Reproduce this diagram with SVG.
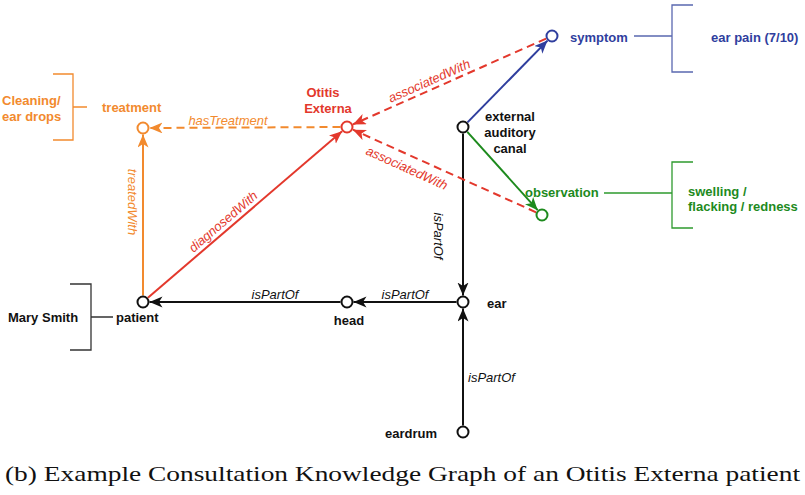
<svg xmlns="http://www.w3.org/2000/svg" width="805" height="495" viewBox="0 0 805 495">
<style>
text{font-family:"Liberation Sans",Arial,sans-serif;font-size:13px}
.b{font-weight:bold}
.i{font-style:italic}
.node{fill:#fff;stroke-width:2}
.edge{fill:none;stroke-width:2}
.dash{stroke-dasharray:8,5}
.br{fill:none;stroke-width:1.3}
.k{stroke:#111}.kf{fill:#111}
.o{stroke:#f28a2e}.of{fill:#f28a2e}
.r{stroke:#e3382c}.rf{fill:#e3382c}
.u{stroke:#2f3e9e}.uf{fill:#2f3e9e}
.g{stroke:#1d8a1d}.gf{fill:#1d8a1d}
</style>
<defs>
<marker id="ak" markerUnits="userSpaceOnUse" markerWidth="14" markerHeight="12" refX="13" refY="5.5" orient="auto"><path d="M0,0 L13,5.5 L0,11 L3.5,5.5 z" fill="#111"/></marker>
<marker id="ao" markerUnits="userSpaceOnUse" markerWidth="14" markerHeight="12" refX="13" refY="5.5" orient="auto"><path d="M0,0 L13,5.5 L0,11 L3.5,5.5 z" fill="#f28a2e"/></marker>
<marker id="ar" markerUnits="userSpaceOnUse" markerWidth="14" markerHeight="12" refX="13" refY="5.5" orient="auto"><path d="M0,0 L13,5.5 L0,11 L3.5,5.5 z" fill="#e3382c"/></marker>
<marker id="au" markerUnits="userSpaceOnUse" markerWidth="14" markerHeight="12" refX="13" refY="5.5" orient="auto"><path d="M0,0 L13,5.5 L0,11 L3.5,5.5 z" fill="#2f3e9e"/></marker>
<marker id="ag" markerUnits="userSpaceOnUse" markerWidth="14" markerHeight="12" refX="13" refY="5.5" orient="auto"><path d="M0,0 L13,5.5 L0,11 L3.5,5.5 z" fill="#1d8a1d"/></marker>
</defs>
<rect width="805" height="495" fill="#fff"/>

<g id="connectors">
  <line class="edge u" x1="467.5" y1="122.4" x2="547.5" y2="40.6" marker-end="url(#au)"/>
  <line class="edge g" x1="467.3" y1="131.8" x2="537.7" y2="210.2" marker-end="url(#ag)"/>
  <line class="edge k" x1="463" y1="133.5" x2="463" y2="295.5" marker-end="url(#ak)"/>
  <line class="edge k" x1="463" y1="425.5" x2="463" y2="308.5" marker-end="url(#ak)"/>
  <line class="edge k" x1="456.5" y1="302" x2="353.5" y2="302" marker-end="url(#ak)"/>
  <line class="edge k" x1="340.5" y1="302" x2="149.5" y2="302" marker-end="url(#ak)"/>
  <line class="edge o" x1="143" y1="295.5" x2="143" y2="134.5" marker-end="url(#ao)"/>
  <line class="edge r" x1="147.9" y1="297.8" x2="342.1" y2="131.2" marker-end="url(#ar)"/>
  <line class="edge o dash" x1="340.5" y1="127" x2="149.5" y2="128" marker-end="url(#ao)"/>
  <line class="edge r dash" x1="546.1" y1="38.6" x2="352.9" y2="124.4" marker-end="url(#ar)"/>
  <line class="edge r dash" x1="536.1" y1="212.3" x2="352.9" y2="129.7" marker-end="url(#ar)"/>
  <text class="i of" x="228" y="125" text-anchor="middle">hasTreatment</text>
  <text class="i of" transform="translate(128,202) rotate(90)" text-anchor="middle">treatedWith</text>
  <text class="i rf" transform="translate(226,225) rotate(-40.6)" text-anchor="middle">diagnosedWith</text>
  <text class="i rf" transform="translate(431,85) rotate(-23.9)" text-anchor="middle">associatedWith</text>
  <text class="i rf" transform="translate(405,172) rotate(24.3)" text-anchor="middle">associatedWith</text>
  <text class="i kf" x="275" y="299" text-anchor="middle">isPartOf</text>
  <text class="i kf" x="405" y="299" text-anchor="middle">isPartOf</text>
  <text class="i kf" transform="translate(434,236) rotate(90)" text-anchor="middle">isPartOf</text>
  <text class="i kf" x="468" y="382">isPartOf</text>
</g>

<g id="treatment">
  <circle class="node o" cx="143" cy="128" r="5.5"/>
  <text class="b of" x="102" y="112">treatment</text>
  <path class="br o" d="M53,74 H73 V140 H53 M73,107 H87"/>
  <text class="b of" x="2" y="105">Cleaning/</text>
  <text class="b of" x="2" y="121">ear drops</text>
</g>
<g id="otitis">
  <circle class="node r" cx="347" cy="127" r="5.5"/>
  <text class="b rf" x="323" y="97" text-anchor="middle">Otitis</text>
  <text class="b rf" x="328" y="113" text-anchor="middle">Externa</text>
</g>
<g id="symptom">
  <circle class="node u" cx="552" cy="36" r="5.5"/>
  <text class="b uf" x="570" y="42">symptom</text>
  <path class="br" stroke="#5a68b0" d="M634,36 H672 M693,5 H672 V72 H693"/>
  <text class="b uf" x="711" y="42">ear pain (7/10)</text>
</g>
<g id="canal">
  <circle class="node k" cx="463" cy="127" r="5.5"/>
  <text class="b kf" x="510" y="121" text-anchor="middle">external</text>
  <text class="b kf" x="510" y="137" text-anchor="middle">auditory</text>
  <text class="b kf" x="510" y="153" text-anchor="middle">canal</text>
</g>
<g id="observation">
  <circle class="node g" cx="542" cy="215" r="5.5"/>
  <text class="b gf" x="525" y="197">observation</text>
  <path class="br" stroke="#2e9a2e" d="M604,193 H672 M693,162 H672 V228 H693"/>
  <text class="b gf" x="688" y="196">swelling /</text>
  <text class="b gf" x="688" y="211">flacking / redness</text>
</g>
<g id="patient">
  <circle class="node k" cx="143" cy="302" r="5.5"/>
  <text class="b kf" x="116" y="322">patient</text>
  <path class="br" stroke="#333" d="M70,284 H91 V350 H70 M91,317 H113"/>
  <text class="b kf" x="8" y="322">Mary Smith</text>
</g>
<g id="head">
  <circle class="node k" cx="347" cy="302" r="5.5"/>
  <text class="b kf" x="349" y="325" text-anchor="middle">head</text>
</g>
<g id="ear">
  <circle class="node k" cx="463" cy="302" r="5.5"/>
  <text class="b kf" x="487" y="308">ear</text>
</g>
<g id="eardrum">
  <circle class="node k" cx="463" cy="432" r="5.5"/>
  <text class="b kf" x="385" y="438">eardrum</text>
</g>

<text x="5" y="481" style="font-family:'Liberation Serif','Times New Roman',serif;font-size:21px" fill="#111" textLength="795" lengthAdjust="spacingAndGlyphs">(b) Example Consultation Knowledge Graph of an Otitis Externa patient</text>
</svg>
